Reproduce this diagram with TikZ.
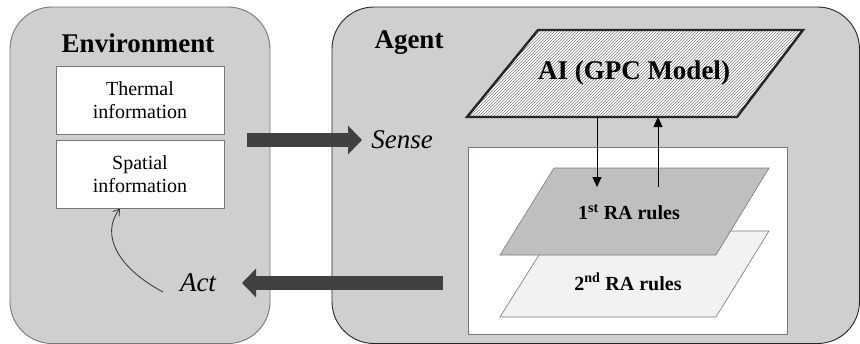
\documentclass[tikz,border=0pt]{standalone}
\usepackage{fontspec}
\setmainfont{Liberation Serif}
\usetikzlibrary{arrows.meta,patterns}
\definecolor{boxgray}{RGB}{208,206,206}
\definecolor{arrowgray}{RGB}{64,64,64}
\definecolor{edgegray}{RGB}{120,120,120}
\definecolor{layerone}{RGB}{191,191,191}
\definecolor{layertwo}{RGB}{242,242,242}
\begin{document}
\begin{tikzpicture}[x=1pt,y=-1pt,
  panel/.style={fill=boxgray,rounded corners=42pt,line width=0.9pt},
  infobox/.style={draw=edgegray,fill=white,line width=0.9pt,minimum width=168pt,minimum height=68pt,align=center,inner sep=0pt,font=\fontsize{20}{23}\selectfont},
  title/.style={font=\fontsize{27}{30}\selectfont\bfseries},
  verb/.style={font=\fontsize{27}{30}\selectfont\itshape},
  bigarrow/.style={draw=arrowgray,line width=14pt,-{Triangle[length=14pt,width=28pt]}},
  thinarrow/.style={draw=black,line width=1pt,-{Triangle[length=10pt,width=9pt]}},
  layertext/.style={font=\fontsize{20}{24}\selectfont\bfseries}]
\useasboundingbox (0,0) rectangle (860,343);
% panels
\draw[panel,draw=edgegray] (10,7) rectangle (270,343.5);
\draw[panel,draw=black!85] (332,7) rectangle (859.5,343.5);
\node[title] (envtitle) at (138,43) {Environment};
\node[title] (agenttitle) at (409,43) {Agent};
% environment boxes
\node[infobox] (thermal) at (140,100) {Thermal\\information};
\node[infobox] (spatial) at (140,174) {Spatial\\information};
% AI parallelogram
\coordinate (aitl) at (538,30);
\coordinate (aitr) at (803,30);
\coordinate (aibr) at (737,117);
\coordinate (aibl) at (467,117);
\fill[white] (aitl) -- (aitr) -- (aibr) -- (aibl) -- cycle;
\fill[pattern=north east lines,pattern color=gray] (aitl) -- (aitr) -- (aibr) -- (aibl) -- cycle;
\draw[line width=2.4pt,draw=black!85,line join=miter] (aitl) -- (aitr) -- (aibr) -- (aibl) -- cycle;
\node[title] (ai) at (634,73) {AI (GPC Model)};
% rules box
\node[draw=edgegray,fill=white,line width=0.9pt,minimum width=319pt,minimum height=187pt,inner sep=0pt] (rulesbox) at (627.5,240.5) {};
% second layer
\draw[draw=edgegray,fill=layertwo,line width=0.6pt] (554,231) -- (769,231) -- (716,317) -- (500,317) -- cycle;
\node[layertext] (second) at (628,282) {2\textsuperscript{nd} RA rules};
% first layer
\draw[draw=edgegray,fill=layerone,line width=0.6pt] (554,168) -- (769,168) -- (716,255) -- (500,255) -- cycle;
\node[layertext] (first) at (629,212) {1\textsuperscript{st} RA rules};
% AI <-> rules arrows
\coordinate (downstart) at (597,117);
\coordinate (downend) at (597,187);
\coordinate (upstart) at (658,187);
\coordinate (upend) at (658,117);
\draw[thinarrow] (downstart) -- (downend);
\draw[thinarrow] (upstart) -- (upend);
% sense / act
\node[verb] (sense) at (402,140) {Sense};
\node[verb] (act) at (198,283) {Act};
\coordinate (sensestart) at (247,140);
\coordinate (senseend) at (362,140);
\coordinate (actstart) at (443,283);
\coordinate (actend) at (242,283);
\draw[bigarrow] (sensestart) -- (senseend);
\draw[bigarrow] (actstart) -- (actend);
% act curve
\draw[draw=arrowgray,line width=0.9pt,-{Straight Barb[length=6pt,width=8pt]}] (163,292) .. controls (118,268) and (100,235) .. (spatial.south -| 120,0);
\end{tikzpicture}
\end{document}
